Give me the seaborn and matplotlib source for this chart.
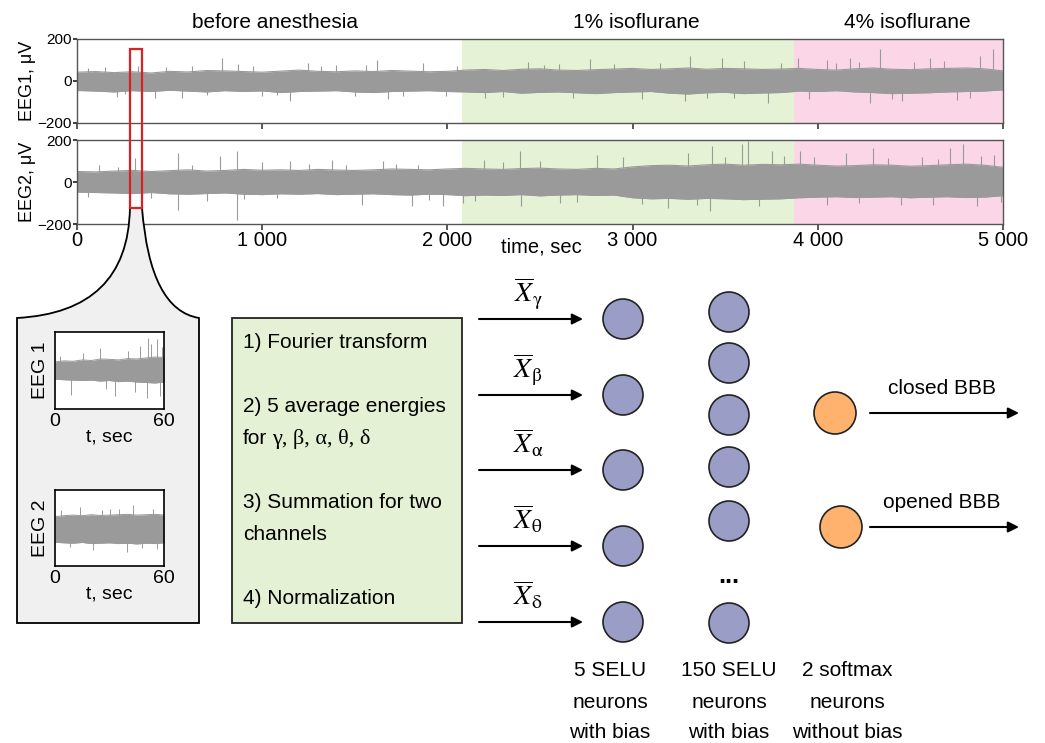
import numpy as np
import pandas as pd
import seaborn as sns
import matplotlib.pyplot as plt
from matplotlib.patches import Circle, Rectangle, PathPatch
from matplotlib.path import Path

# EEG envelopes (uV), one value every 100 s
t_env = list(range(0, 5001, 100))
eeg1_hi = [42, 45, 40, 44, 38, 46, 43, 50, 48, 45, 42, 47, 52, 46, 44, 48, 45, 50, 47, 44, 46,
           52, 55, 50, 56, 58, 52, 50, 54, 57, 60, 55, 58, 62, 56, 60, 58, 55, 57,
           60, 55, 52, 58, 62, 56, 54, 58, 60, 62, 58, 48]
eeg1_lo = [-45, -48, -52, -46, -50, -44, -48, -52, -46, -50, -47, -55, -50, -48, -46, -52, -55, -50, -48, -46, -50,
           -52, -55, -50, -58, -54, -52, -56, -60, -55, -52, -50, -58, -62, -56, -54, -60, -57, -55,
           -48, -50, -46, -52, -55, -60, -58, -56, -52, -50, -48, -42]
eeg2_hi = [50, 48, 52, 55, 50, 54, 58, 52, 55, 60, 56, 58, 55, 60, 57, 55, 58, 62, 60, 58, 62,
           65, 62, 60, 64, 66, 62, 60, 65, 62, 72, 78, 80, 76, 82, 85, 80, 84, 82,
           85, 80, 76, 78, 82, 80, 75, 78, 82, 85, 80, 70]
eeg2_lo = [-48, -50, -52, -55, -50, -56, -58, -55, -52, -58, -60, -56, -58, -55, -60, -58, -56, -60, -62, -58, -60,
           -65, -62, -64, -60, -66, -62, -60, -64, -62, -75, -80, -78, -82, -78, -80, -84, -82, -80,
           -75, -72, -70, -74, -72, -70, -75, -72, -70, -74, -72, -65]

# single spikes sticking out of the band (time s, amplitude uV)
eeg1_spike_t = [150, 214, 330, 421, 565, 620, 781, 871, 1000, 1150, 1249, 1400, 1618, 1680, 1870, 1990,
                2203, 2436, 2600, 2770, 3050, 3283, 3310, 3481, 3600, 3731, 3894, 4050, 4174, 4282,
                4336, 4453, 4606, 4750, 4876, 4947,
                60, 260, 480, 700, 950, 1080, 1320, 1500, 1560, 1760, 2050, 2300, 2520, 2680, 2900,
                3150, 3400, 3550, 3800, 3950, 4100, 4220, 4400, 4520, 4680, 4820]
eeg1_spike_a = [65, -76, 70, -83, -83, 72, 108, 83, -70, -95, 87, 75, 98, -87, 87, -72,
                -79, 92, 80, 103, -85, -95, 119, 111, 95, -103, 108, 100, 111, -103,
                151, -95, 111, -90, 119, 151,
                60, -62, 66, -65, 70, -68, 72, -70, 78, -72, 70, -75, 78, -80, 82,
                85, -82, -80, 85, -84, 88, 90, -86, 92, 95, -80]
eeg2_spike_t = [120, 313, 547, 547, 700, 772, 862, 862, 1000, 1150, 1375, 1537, 1650, 1807, 1843, 1978,
                2086, 2200, 2392, 2400, 2608, 2808, 2950, 3193, 3300, 3418, 3428, 3590, 3625, 3750,
                3904, 4049, 4150, 4300, 4450, 4624, 4714, 4786, 4857, 4950,
                60, 220, 400, 620, 900, 1080, 1250, 1450, 1720, 1900, 2150, 2300, 2500, 2700, 3050,
                3350, 3500, 3680, 3820, 3980, 4220, 4380, 4560, 4650, 4880, 4990]
eeg2_spike_a = [80, 114, 138, -132, -90, 122, 146, -179, 95, 98, 106, -108, 100, -116, 83, -116,
                -100, 105, 146, -116, -100, 130, 120, -124, 140, -140, 170, 181, 194, 150,
                146, -108, 140, 162, -110, -108, 162, 181, -116, 130,
                -70, 72, -75, 80, -82, -78, 85, 82, 88, -85, -90, 95, 100, -95, -105,
                -110, 120, -115, 125, 118, -100, 115, 120, 110, 125, -95]

periods = ["before anesthesia", "1% isoflurane", "4% isoflurane"]
period_start = [0, 2080, 3870]
period_end = [2080, 3870, 5000]
period_label_t = [1069, 3019, 4482]
period_colors = [None, "#e6f2d5", "#fbd6e7"]
xtick_vals = [0, 1000, 2000, 3000, 4000, 5000]
xtick_labels = ["0", "1 000", "2 000", "3 000", "4 000", "5 000"]
zoom_window = (286, 351)

# zoomed 60 s fragment, envelope every 5 s
t_zoom = list(range(0, 61, 5))
zoom1_hi = [45, 50, 48, 55, 52, 60, 58, 55, 62, 60, 65, 70, 68]
zoom1_lo = [-45, -48, -50, -52, -50, -55, -52, -58, -55, -60, -62, -65, -60]
zoom2_hi = [60, 65, 68, 65, 70, 66, 68, 70, 72, 68, 70, 72, 68]
zoom2_lo = [-75, -78, -80, -76, -82, -80, -78, -82, -80, -84, -80, -82, -78]
zoom1_spike_t = [3, 9, 15.5, 24.7, 28, 33, 40.3, 44, 46.8, 50.4, 51.3, 53, 56, 57.8, 59]
zoom1_spike_a = [75, -126, 90, 116, -95, -135, 99, -110, 125, -144, 168, 140, 163, -135, 120]
zoom2_spike_t = [3.5, 8, 13.6, 21, 26, 30.2, 35, 39.4, 43, 48, 54, 56]
zoom2_spike_a = [93, -100, 111, -116, 95, 102, 100, -125, 120, -105, 102, -110]

step_lines = ["1) Fourier transform", "", "2) 5 average energies", "for", "",
              "3) Summation for two", "channels", "", "4) Normalization"]
greek_line = "\u03b3, \u03b2, \u03b1, \u03b8, \u03b4"
bands = ["gamma", "beta", "alpha", "theta", "delta"]
layer_labels = [["5 SELU", "neurons", "with bias"],
                ["150 SELU", "neurons", "with bias"],
                ["2 softmax", "neurons", "without bias"]]
outputs = ["closed BBB", "opened BBB"]

# layout (pixels)
layer1_x, layer1_y = 623, [319, 395, 470, 546, 622]
layer2_x, layer2_y = 729, [312, 363, 415, 467, 521, 623]
out_xy = [(835, 413), (841, 527)]
label_x = [610, 729, 847]
label_y = [670, 702, 733]

sns.set_theme(style="white")
plt.rcParams["font.family"] = ["Liberation Sans", "DejaVu Sans"]
plt.rcParams["mathtext.fontset"] = "stix"
for key in ["text.color", "axes.labelcolor", "xtick.labelcolor", "ytick.labelcolor"]:
    plt.rcParams[key] = "black"

W, H = 1045, 743
fig = plt.figure(figsize=(W / 100, H / 100), dpi=100)


def px_axes(x0, y0, x1, y1):
    return fig.add_axes([x0 / W, 1 - y1 / H, (x1 - x0) / W, (y1 - y0) / H])


bg = fig.add_axes([0, 0, 1, 1], zorder=-1)
bg.set_xlim(0, W)
bg.set_ylim(H, 0)
bg.set_axis_off()

sig_color = "#9a9a9a"


def draw_trace(ax, t, hi, lo, sp_t, sp_a, lw):
    df = pd.DataFrame({"t": t, "hi": hi, "lo": lo})
    ax.fill_between(df.t, df.lo, df.hi, color=sig_color, lw=0, zorder=2)
    sns.lineplot(data=df, x="t", y="hi", ax=ax, color=sig_color, lw=lw, zorder=2)
    sns.lineplot(data=df, x="t", y="lo", ax=ax, color=sig_color, lw=lw, zorder=2)
    ax.vlines(sp_t, 0, sp_a, color=sig_color, lw=lw, zorder=2)


# long recordings
ax1 = px_axes(77, 39, 1003, 123)
ax2 = px_axes(77, 140, 1003, 224)
for ax, hi, lo, st, sa, lab in [(ax1, eeg1_hi, eeg1_lo, eeg1_spike_t, eeg1_spike_a, "EEG1, \u03bcV"),
                                (ax2, eeg2_hi, eeg2_lo, eeg2_spike_t, eeg2_spike_a, "EEG2, \u03bcV")]:
    for s, e, c in zip(period_start, period_end, period_colors):
        if c:
            ax.axvspan(s, e, color=c, lw=0, zorder=0)
    draw_trace(ax, t_env, hi, lo, st, sa, 0.8)
    ax.set_xlim(0, 5000)
    ax.set_ylim(-200, 200)
    ax.set_yticks([-200, 0, 200])
    ax.set_xticks(xtick_vals)
    ax.tick_params(axis="y", labelsize=11, length=3, pad=1, left=True, direction="out")
    ax.tick_params(axis="x", length=4, bottom=True, direction="out", color="#444")
    ax.set_ylabel(lab, fontsize=13, labelpad=1)
    ax.set_xlabel("")
    for sp in ax.spines.values():
        sp.set_color("#555555")
        sp.set_linewidth(1)
ax1.set_xticklabels([])
ax2.set_xticklabels(xtick_labels, fontsize=14.5)
ax2.tick_params(axis="x", pad=1)
for lab, t in zip(periods, period_label_t):
    ax1.text(t, 1 + 16 / 84, lab, transform=ax1.get_xaxis_transform(),
             ha="center", va="center", fontsize=15)
fig.text(541 / W, 1 - 247 / H, "time, sec", fontsize=14.5, ha="center", va="center")

# red selection box, from data coords of the two traces
inv = bg.transData.inverted()
rx0, ry0 = inv.transform(ax1.transData.transform((zoom_window[0], 152)))
rx1, ry1 = inv.transform(ax2.transData.transform((zoom_window[1], -124)))
fig.add_artist(Rectangle((rx0, ry0), rx1 - rx0, ry1 - ry0, fill=False, ec="#dd1f26",
                         lw=1.6, transform=bg.transData, zorder=10))

# funnel that opens into the zoomed fragment
verts = [(rx0, ry1), (rx1, ry1), (rx1 + 8, 310), (199, 318), (199, 623), (17, 623),
         (17, 318), (128, 312), (rx0, ry1), (rx0, ry1)]
codes = [Path.MOVETO, Path.LINETO, Path.CURVE3, Path.CURVE3, Path.LINETO, Path.LINETO,
         Path.LINETO, Path.CURVE3, Path.CURVE3, Path.CLOSEPOLY]
fig.add_artist(PathPatch(Path(verts, codes), fc="#f0f0f0", ec="black", lw=1.3,
                         transform=bg.transData, zorder=1))

# zoomed fragments
for (y0, y1), hi, lo, st, sa, lab in [((332, 409), zoom1_hi, zoom1_lo, zoom1_spike_t, zoom1_spike_a, "EEG 1"),
                                      ((490, 566), zoom2_hi, zoom2_lo, zoom2_spike_t, zoom2_spike_a, "EEG 2")]:
    ax = px_axes(55, y0, 164, y1)
    ax.set_zorder(2)
    ax.set_facecolor("white")
    draw_trace(ax, t_zoom, hi, lo, st, sa, 0.7)
    ax.set_xlim(0, 60)
    ax.set_ylim(-200, 200)
    ax.set_xticks([0, 60])
    ax.set_xticklabels(["0", "60"], fontsize=14)
    ax.set_yticks([])
    ax.tick_params(axis="x", length=0, pad=3)
    ax.set_xlabel("t, sec", fontsize=14, labelpad=-1)
    ax.set_ylabel(lab, fontsize=14, labelpad=4)
    for sp in ax.spines.values():
        sp.set_color("black")
        sp.set_linewidth(1.2)

# processing steps
bg.add_patch(Rectangle((232, 318), 230, 305, fc="#e5f1d5", ec="#222222", lw=1.3))
for i, line in enumerate(step_lines):
    if line:
        bg.text(243, 343 + 32 * i, line, fontsize=15, va="center", ha="left")
bg.text(272, 343 + 32 * 3, greek_line, fontsize=16, va="center", ha="left",
        family=["Liberation Serif", "DejaVu Serif"])

# network
arrow = dict(arrowstyle="-|>", mutation_scale=16, lw=1.5, color="black", shrinkA=0, shrinkB=0)
for y, b in zip(layer1_y, bands):
    bg.annotate("", xy=(583, y), xytext=(479, y), arrowprops=arrow)
    bg.text(528, y - 17, r"$\overline{X}_{\mathrm{\%s}}$" % b, fontsize=20, ha="center", va="baseline")
    bg.add_patch(Circle((layer1_x, y), 20, fc="#9a9ec6", ec="#222222", lw=1.2))
for y in layer2_y:
    bg.add_patch(Circle((layer2_x, y), 20, fc="#9a9ec6", ec="#222222", lw=1.2))
bg.text(layer2_x, 583, "...", fontsize=18, fontweight="bold", ha="center", va="baseline")
for (x, y), lab in zip(out_xy, outputs):
    bg.add_patch(Circle((x, y), 21, fc="#ffb26e", ec="#222222", lw=1.2))
    bg.annotate("", xy=(1019, y), xytext=(870, y), arrowprops=arrow)
    bg.text(942, y - 25, lab, fontsize=15, ha="center", va="center")
for x, lines in zip(label_x, layer_labels):
    for y, line in zip(label_y, lines):
        bg.text(x, y, line, fontsize=15, ha="center", va="center")

fig.savefig("out.png", dpi=100)
